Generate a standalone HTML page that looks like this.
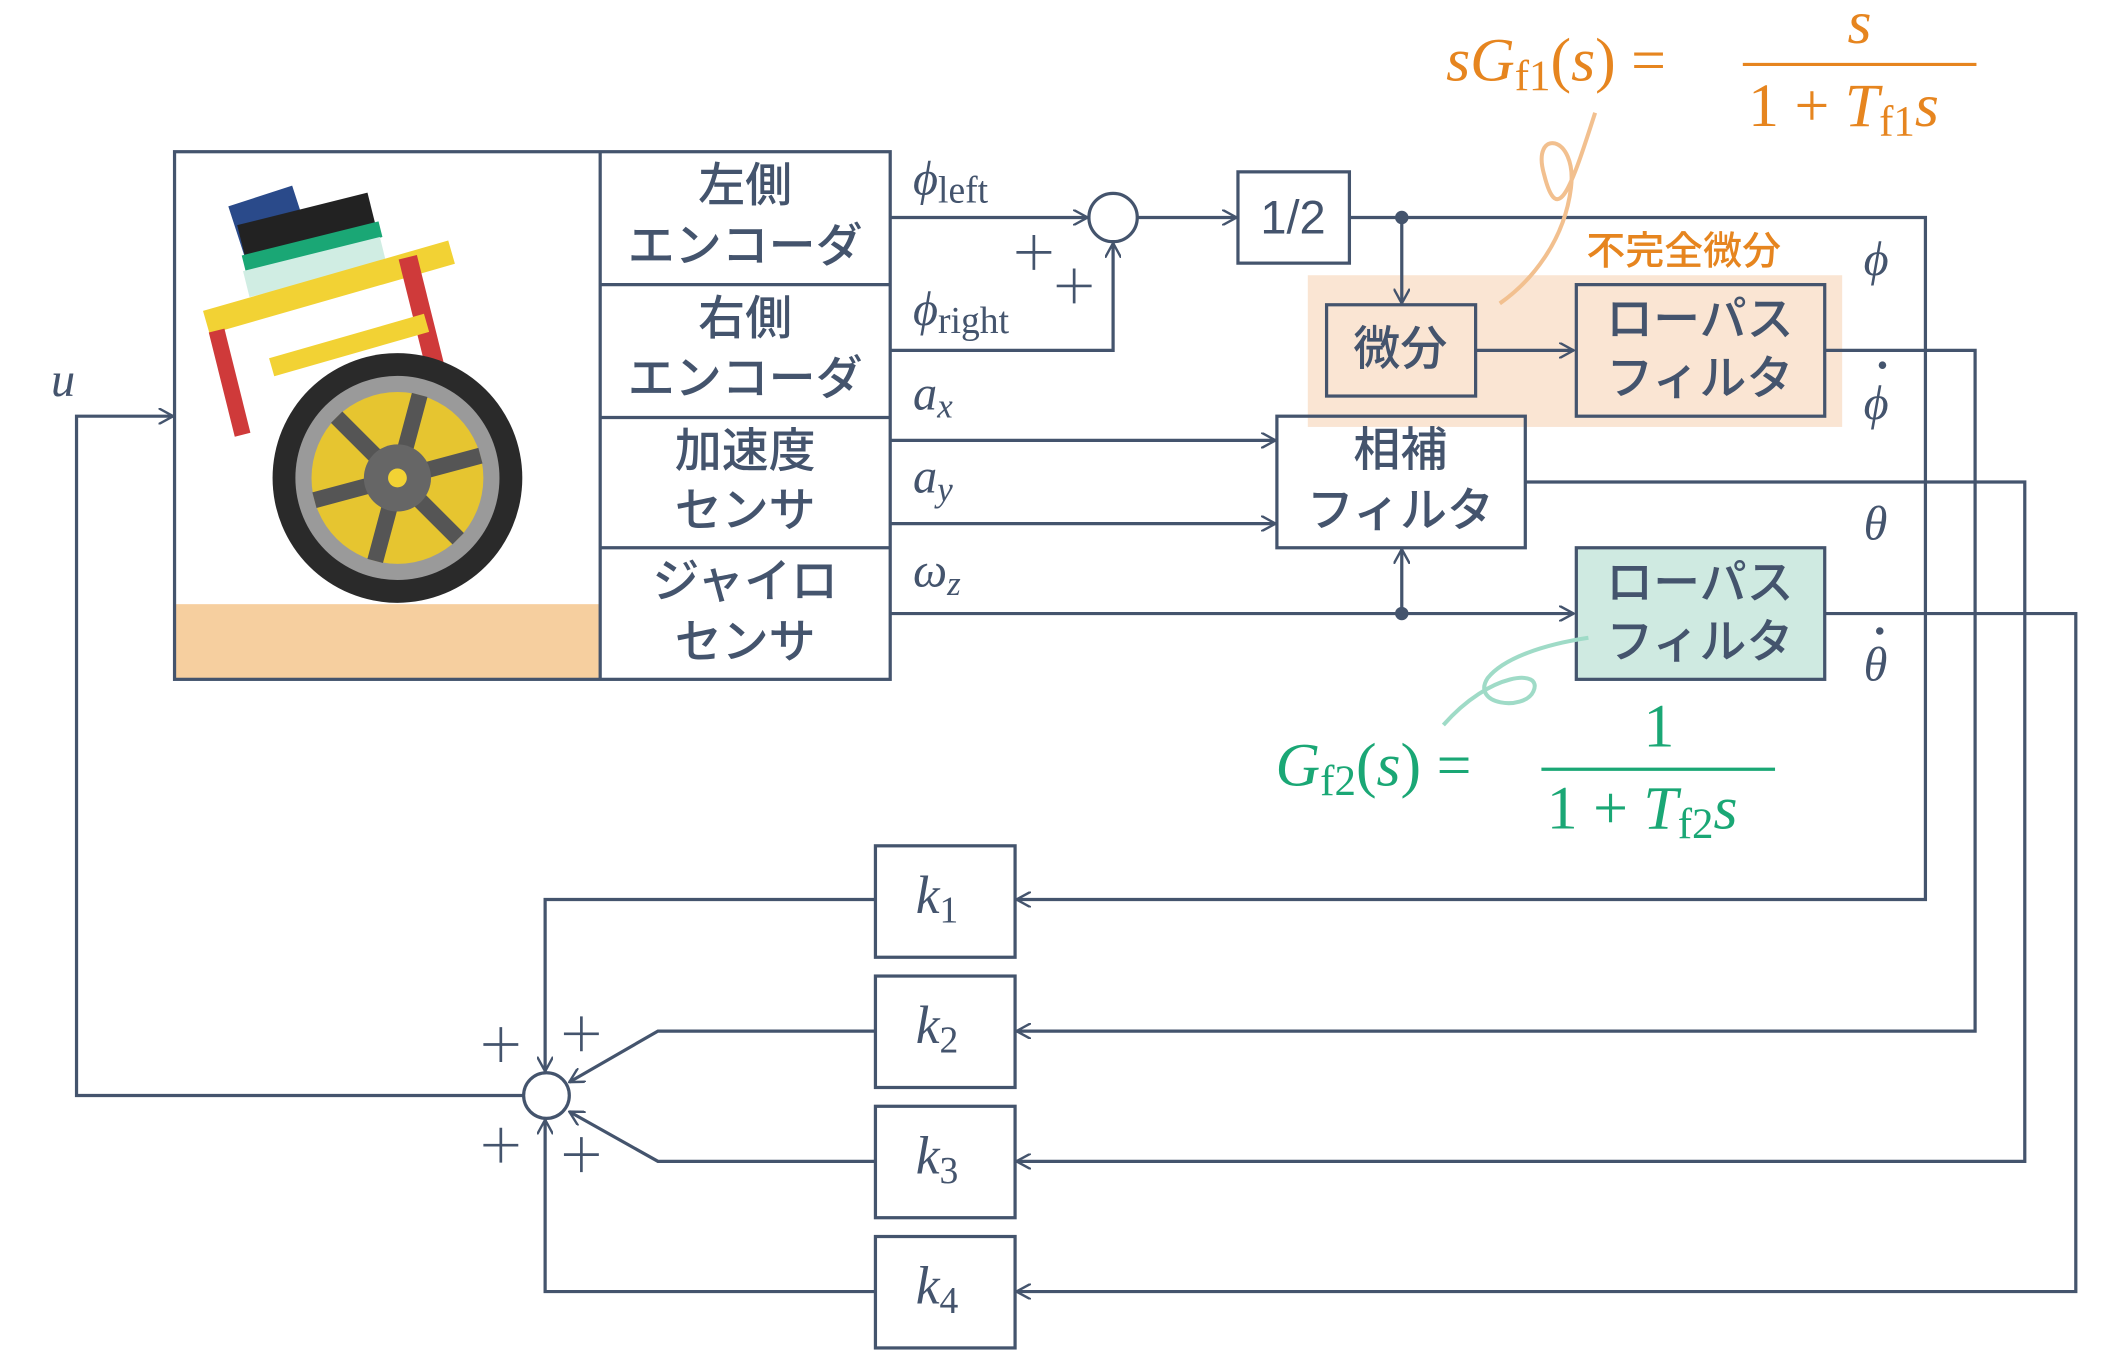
<!DOCTYPE html>
<html><head><meta charset="utf-8"><style>
html,body{margin:0;padding:0;background:#fff;}
svg{display:block;}
.j{font-family:"Liberation Sans","Noto Sans CJK JP",sans-serif;fill:#44546d;font-size:35px;font-weight:500;text-anchor:middle;}
.m{font-family:"Liberation Serif",serif;font-style:italic;fill:#44546d;font-size:36px;}
.r{font-style:normal;}
</style></head><body>
<svg width="2104" height="1356" viewBox="0 0 1567 1010" preserveAspectRatio="none" xmlns="http://www.w3.org/2000/svg">
<defs>
<marker id="a" viewBox="0 0 12 12" refX="11" refY="6" markerWidth="12" markerHeight="12" markerUnits="userSpaceOnUse" orient="auto">
<path d="M0,0 L11,6 L0,12" fill="none" stroke="#44546d" stroke-width="1.8"/>
</marker>
</defs>
<g stroke="#44546d" stroke-width="2.4" fill="none">
<rect x="131" y="450" width="316" height="56" fill="#f6cf9f" stroke="none"/>
<rect x="130" y="113" width="533" height="393"/>
<line x1="447" y1="113" x2="447" y2="506"/>
<line x1="447" y1="212" x2="663" y2="212"/>
<line x1="447" y1="311" x2="663" y2="311"/>
<line x1="447" y1="408" x2="663" y2="408"/>
<rect x="974" y="205" width="398" height="113" fill="#fae5d3" stroke="none"/>
<line x1="663" y1="162" x2="810" y2="162" marker-end="url(#a)"/>
<circle cx="829" cy="162" r="18"/>
<polyline points="663,261 829,261 829,181" marker-end="url(#a)"/>
<line x1="847" y1="162" x2="921" y2="162" marker-end="url(#a)"/>
<rect x="922" y="128" width="83" height="68"/>
<polyline points="1005,162 1434,162 1434,670 757,670" marker-end="url(#a)"/>
<line x1="1044" y1="162" x2="1044" y2="226" marker-end="url(#a)"/>
<rect x="988" y="227" width="111" height="68"/>
<line x1="1099" y1="261" x2="1172" y2="261" marker-end="url(#a)"/>
<rect x="1174" y="212" width="185" height="98" fill="#fae5d3"/>
<polyline points="1359,261 1471,261 1471,768 757,768" marker-end="url(#a)"/>
<line x1="663" y1="328" x2="950" y2="328" marker-end="url(#a)"/>
<line x1="663" y1="390" x2="950" y2="390" marker-end="url(#a)"/>
<rect x="951" y="310" width="185" height="98"/>
<polyline points="1136,359 1508,359 1508,865 757,865" marker-end="url(#a)"/>
<line x1="663" y1="457" x2="1172" y2="457" marker-end="url(#a)"/>
<line x1="1044" y1="457" x2="1044" y2="409" marker-end="url(#a)"/>
<rect x="1174" y="408" width="185" height="98" fill="#cfeae1"/>
<polyline points="1359,457 1546,457 1546,962 757,962" marker-end="url(#a)"/>
<rect x="652" y="630" width="104" height="83"/>
<rect x="652" y="727" width="104" height="83"/>
<rect x="652" y="824" width="104" height="83"/>
<rect x="652" y="921" width="104" height="83"/>
<polyline points="652,670 406,670 406,798" marker-end="url(#a)"/>
<polyline points="652,768 490,768 424,806" marker-end="url(#a)"/>
<polyline points="652,865 490,865 424,828" marker-end="url(#a)"/>
<polyline points="652,962 406,962 406,834" marker-end="url(#a)"/>
<circle cx="407" cy="816" r="17"/>
<polyline points="390,816 57,816 57,310 129,310" marker-end="url(#a)"/>
<path d="M360,778h26M373,765v26M420,770h26M433,757v26M360,853h26M373,840v26M420,860h26M433,847v26M757,188h26M770,175v26M787,213h26M800,200v26" stroke-width="2"/>
<path d="M1188,84 C1170,140 1160,170 1150,130 C1140,95 1175,100 1170,140 C1165,180 1140,210 1117,226" stroke="#f2c08f" stroke-width="3"/>
<path d="M1183,475 C1150,480 1120,490 1108,505 C1095,525 1135,530 1142,515 C1150,498 1110,500 1075,540" stroke="#9fdbc7" stroke-width="3"/>
<line x1="1298" y1="48" x2="1472" y2="48" stroke="#e6851f" stroke-width="2.4"/>
<line x1="1148" y1="573" x2="1322" y2="573" stroke="#1aa775" stroke-width="2.4"/>
</g>
<circle cx="1044" cy="162" r="5" fill="#44546d"/>
<circle cx="1044" cy="457" r="5" fill="#44546d"/>
<circle cx="1402" cy="272" r="2.8" fill="#44546d"/>
<circle cx="1400" cy="470" r="2.8" fill="#44546d"/>
<g>
<rect x="175" y="145" width="50" height="40" fill="#2a4a8a" transform="rotate(-18 200 165)"/>
<rect x="180" y="155" width="100" height="40" fill="#222" transform="rotate(-14 230 175)"/>
<rect x="180" y="178" width="105" height="12" fill="#1aa775" transform="rotate(-14 230 184)"/>
<rect x="182" y="190" width="105" height="20" fill="#d0ede3" transform="rotate(-14 230 200)"/>
<rect x="150" y="205" width="190" height="18" fill="#f2d234" transform="rotate(-16 245 214)"/>
<rect x="165" y="245" width="12" height="80" fill="#cf3a3a" transform="rotate(-14 171 285)"/>
<rect x="310" y="190" width="14" height="110" fill="#cf3a3a" transform="rotate(-14 317 245)"/>
<rect x="200" y="250" width="120" height="14" fill="#f2d234" transform="rotate(-16 260 257)"/>
<circle cx="296" cy="356" r="93" fill="#2a2a2a"/>
<circle cx="296" cy="356" r="76" fill="#9a9a9a"/>
<circle cx="296" cy="356" r="64" fill="#e6c530"/>
<g stroke="#555" stroke-width="12">
<line x1="296" y1="292" x2="296" y2="420" transform="rotate(15 296 356)"/>
<line x1="296" y1="292" x2="296" y2="420" transform="rotate(75 296 356)"/>
<line x1="296" y1="292" x2="296" y2="420" transform="rotate(135 296 356)"/>
</g>
<circle cx="296" cy="356" r="25" fill="#666"/>
<circle cx="296" cy="356" r="7" fill="#f2d234"/>
</g>
<g class="j">
<text x="555" y="150">左側</text><text x="555" y="195">エンコーダ</text>
<text x="555" y="249">右側</text><text x="555" y="294">エンコーダ</text>
<text x="555" y="348">加速度</text><text x="555" y="392">センサ</text>
<text x="555" y="445">ジャイロ</text><text x="555" y="490">センサ</text>
<text x="963" y="174">1/2</text>
<text x="1043" y="272">微分</text>
<text x="1266" y="250">ローパス</text><text x="1266" y="294">フィルタ</text>
<text x="1043" y="347">相補</text><text x="1043" y="392">フィルタ</text>
<text x="1266" y="446">ローパス</text><text x="1266" y="490">フィルタ</text>
<text x="1254" y="197" style="fill:#e6851f;font-size:29px">不完全微分</text>
</g>
<g class="m">
<text x="680" y="145">ϕ<tspan class="r" font-size="28" dy="6">left</tspan></text>
<text x="680" y="242">ϕ<tspan class="r" font-size="28" dy="6">right</tspan></text>
<text x="680" y="305">a<tspan font-size="26" dy="6">x</tspan></text>
<text x="680" y="367">a<tspan font-size="26" dy="6">y</tspan></text>
<text x="680" y="437">ω<tspan font-size="26" dy="6">z</tspan></text>
<text x="1388" y="205">ϕ</text>
<text x="1388" y="312">ϕ</text>
<text x="1388" y="402">θ</text>
<text x="1388" y="507">θ</text>
<text x="38" y="295">u</text>
<text x="682" y="680" font-size="40">k<tspan class="r" font-size="28" dy="7">1</tspan></text>
<text x="682" y="777" font-size="40">k<tspan class="r" font-size="28" dy="7">2</tspan></text>
<text x="682" y="874" font-size="40">k<tspan class="r" font-size="28" dy="7">3</tspan></text>
<text x="682" y="971" font-size="40">k<tspan class="r" font-size="28" dy="7">4</tspan></text>
<g style="fill:#e6851f" font-size="46">
<text x="1077" y="60">sG<tspan class="r" font-size="32" dy="7">f1</tspan><tspan class="r" dy="-7">(</tspan>s<tspan class="r">)  =</tspan></text>
<text x="1376" y="32">s</text>
<text x="1302" y="94"><tspan class="r">1 + </tspan>T<tspan class="r" font-size="32" dy="7">f1</tspan><tspan dy="-7">s</tspan></text>
</g>
<g style="fill:#1aa775" font-size="46">
<text x="950" y="585">G<tspan class="r" font-size="32" dy="7">f2</tspan><tspan class="r" dy="-7">(</tspan>s<tspan class="r">)  =</tspan></text>
<text x="1224" y="556" class="r">1</text>
<text x="1152" y="617"><tspan class="r">1 + </tspan>T<tspan class="r" font-size="32" dy="7">f2</tspan><tspan dy="-7">s</tspan></text>
</g>
</g>
</svg>
</body></html>
